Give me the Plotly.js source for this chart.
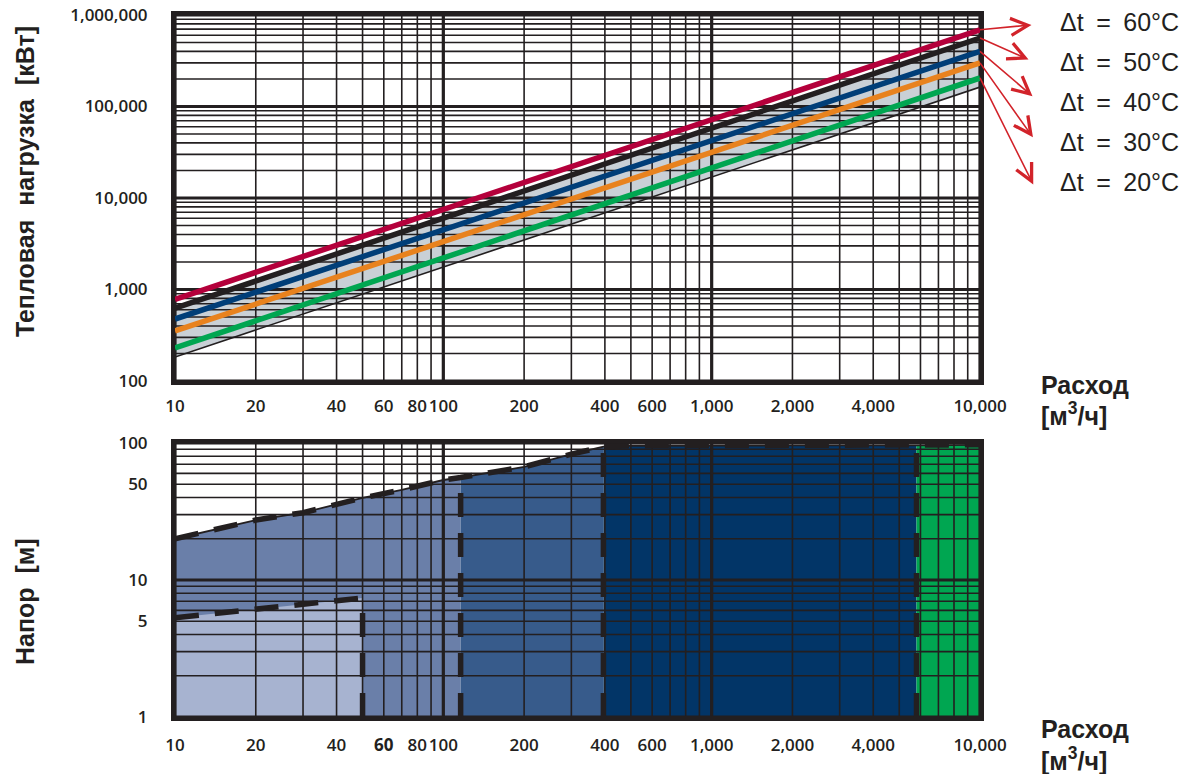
<!DOCTYPE html>
<html>
<head>
<meta charset="utf-8">
<script src="https://cdn.plot.ly/plotly-3.0.1.min.js"></script>
<style>html,body{margin:0;padding:0;background:#fff}#chart{width:1187px;height:774px}</style>
</head>
<body>
<div id="chart"></div>
<script>
// ---------- data: top chart (heat load vs flow) ----------
const flowEnds = [10, 10000];               // м³/ч
const load60 = [780, 690000];               // кВт, Δt = 60°C
const load50 = [625, 560000];               // Δt = 50°C
const load40 = [476, 400000];               // Δt = 40°C
const load30 = [352, 300000];               // Δt = 30°C
const load20 = [230, 205000];               // Δt = 20°C
const loadLow = [183, 163000];              // lower band edge
const dtLabels = ['Δt\u2002=\u200260°C', 'Δt\u2002=\u200250°C', 'Δt\u2002=\u200240°C', 'Δt\u2002=\u200230°C', 'Δt\u2002=\u200220°C'];

// ---------- data: bottom chart (head vs flow) ----------
const envFlow = [10, 20, 30, 50, 70, 100, 116, 200, 300, 395, 500, 1000, 2000, 5800, 10000];
const envHead = [20, 27.4, 31, 39.7, 45.5, 53.7, 56, 67, 83, 94, 95.5, 96, 96, 96, 97];
const smallFlow = [10, 50];
const smallHead = [5.3, 7.4];
const zoneEdges = [10, 50, 116, 395, 5800, 10000];

// ---------- tick labels ----------
const xTickVals = [10, 20, 40, 60, 80, 100, 200, 400, 600, 1000, 2000, 4000, 10000];
const xTickText = ['10', '20', '40', '60', '80', '100', '200', '400', '600', '1,000', '2,000', '4,000', '10,000'];
const xTickTextBottom = ['10', '20', '40', '<b>60</b>', '80', '100', '200', '400', '600', '1,000', '2,000', '4,000', '10,000'];
const yTopTickVals = [100, 1000, 10000, 100000, 1000000];
const yTopTickText = ['100', '1,000', '10,000', '100,000', '1,000,000'];
const yBotTickVals = [1, 5, 10, 50, 100];
const yBotTickText = ['1', '5', '10', '50', '100'];

const INK = '#231f20';
const lineColors = ['#b4003b', '#231f20', '#003e78', '#e8821e', '#00a651'];
const zoneColors = ['#6a7fa9', '#a7b3d0', '#375b8b', '#023567', '#00a651'];

// ---------- helpers ----------
function logGrid(lo, hi) {
  const minor = [], major = [];
  for (let d = lo; d < hi; d *= 10) {
    major.push(d);
    for (let m = 2; m < 10; m++) minor.push(d * m);
  }
  major.push(hi);
  return {minor, major};
}
function vSegs(vals, a, b) { const x = [], y = []; vals.forEach(v => { x.push(v, v, null); y.push(a, b, null); }); return {x, y}; }
function hSegs(vals, a, b) { const x = [], y = []; vals.forEach(v => { x.push(a, b, null); y.push(v, v, null); }); return {x, y}; }
function gridTraces(xa, ya, xr, yr) {
  const gx = logGrid(xr[0], xr[1]), gy = logGrid(yr[0], yr[1]);
  const out = [];
  [[vSegs(gx.minor, yr[0], yr[1]), 1.6], [hSegs(gy.minor, xr[0], xr[1]), 1.6],
   [vSegs(gx.major, yr[0], yr[1]), 3.2], [hSegs(gy.major, xr[0], xr[1]), 3.2]].forEach(([s, w]) => {
    out.push({x: s.x, y: s.y, xaxis: xa, yaxis: ya, mode: 'lines', line: {color: INK, width: w}, hoverinfo: 'skip', connectgaps: false});
  });
  return out;
}

const traces = [];
// top: grey band
traces.push({x: flowEnds, y: loadLow, mode: 'lines', line: {width: 0}, xaxis: 'x', yaxis: 'y', hoverinfo: 'skip'});
traces.push({x: flowEnds, y: load50, mode: 'lines', line: {width: 0}, fill: 'tonexty', fillcolor: '#c9d0d6', xaxis: 'x', yaxis: 'y', hoverinfo: 'skip'});
traces.push(...gridTraces('x', 'y', [10, 10000], [100, 1000000]));
traces.push({x: flowEnds, y: loadLow, mode: 'lines', line: {color: INK, width: 1.6}, xaxis: 'x', yaxis: 'y'});
[load60, load50, load40, load30, load20].forEach((s, i) => {
  traces.push({x: flowEnds, y: s, mode: 'lines', name: dtLabels[i], line: {color: lineColors[i], width: 5.5}, xaxis: 'x', yaxis: 'y'});
});

// bottom: zones
function envBetween(a, b) {
  const x = [], y = [];
  envFlow.forEach((f, i) => { if (f >= a && f <= b) { x.push(f); y.push(envHead[i]); } });
  return {x, y};
}
function envAt(f) { return envHead[envFlow.indexOf(f)]; }
function zonePoly(a, b) {
  const e = envBetween(a, b);
  return {x: [a, ...e.x, b, a], y: [1, ...e.y, 1, 1]};
}
const zones = [
  zonePoly(zoneEdges[0], zoneEdges[2]),
  {x: [smallFlow[0], smallFlow[0], smallFlow[1], smallFlow[1], smallFlow[0]], y: [1, smallHead[0], smallHead[1], 1, 1]},
  zonePoly(zoneEdges[2], zoneEdges[3]),
  zonePoly(zoneEdges[3], zoneEdges[4]),
  zonePoly(zoneEdges[4], zoneEdges[5])
];
zones.forEach((z, i) => {
  traces.push({x: z.x, y: z.y, mode: 'lines', fill: 'toself', fillcolor: zoneColors[i], line: {width: 0}, xaxis: 'x2', yaxis: 'y2', hoverinfo: 'skip'});
});
traces.push(...gridTraces('x2', 'y2', [10, 10000], [1, 100]));
// envelope and dashed boundaries
traces.push({x: envFlow, y: envHead, mode: 'lines', line: {color: INK, width: 1.8}, xaxis: 'x2', yaxis: 'y2', hoverinfo: 'skip'});
const dashLine = {color: INK, width: 5.5, dash: '24px,16px'};
traces.push({x: envFlow, y: envHead, mode: 'lines', line: dashLine, xaxis: 'x2', yaxis: 'y2', hoverinfo: 'skip'});
traces.push({x: smallFlow, y: smallHead, mode: 'lines', line: dashLine, xaxis: 'x2', yaxis: 'y2', hoverinfo: 'skip'});
traces.push({x: [smallFlow[1], smallFlow[1]], y: [1, smallHead[1]], mode: 'lines', line: dashLine, xaxis: 'x2', yaxis: 'y2', hoverinfo: 'skip'});
[zoneEdges[2], zoneEdges[3], zoneEdges[4]].forEach(f => {
  traces.push({x: [f, f], y: [1, envAt(f)], mode: 'lines', line: dashLine, xaxis: 'x2', yaxis: 'y2', hoverinfo: 'skip'});
});

const tickFont = {family: 'Open Sans, sans-serif', size: 17, weight: 600, color: INK};
function xAxis(anchor, text, standoff) {
  return {type: 'log', range: [1, 4], anchor: anchor, domain: [0, 1], showgrid: false, zeroline: false,
    showline: true, mirror: true, linewidth: 4, linecolor: INK, ticks: '', tickmode: 'array', tickangle: 0,
    tickvals: xTickVals, ticktext: text, tickfont: tickFont, ticklabelstandoff: standoff, automargin: false, fixedrange: true};
}
function yAxis(anchor, dom, range, vals, text) {
  return {type: 'log', range: range, anchor: anchor, domain: dom, showgrid: false, zeroline: false,
    showline: true, mirror: true, linewidth: 4, linecolor: INK, ticks: '', tickmode: 'array', tickangle: 0,
    tickvals: vals, ticktext: text, tickfont: tickFont, ticklabelstandoff: 20, automargin: false, fixedrange: true};
}

const titleFont = {family: 'Liberation Sans, Arial, sans-serif', size: 25, weight: 700, color: INK};
const labelFont = {family: 'Liberation Sans, Arial, sans-serif', size: 25, color: INK};
const annotations = [
  {text: 'Тепловая\u00a0\u00a0нагрузка\u00a0\u00a0[кВт]', textangle: -90, xref: 'paper', yref: 'paper', x: -0.1863, y: 0.762, showarrow: false, font: titleFont, xanchor: 'center', yanchor: 'middle'},
  {text: 'Напор\u00a0\u00a0[м]', textangle: -90, xref: 'paper', yref: 'paper', x: -0.1863, y: 0.1638, showarrow: false, font: titleFont, xanchor: 'center', yanchor: 'middle'},
  {text: 'Расход', xref: 'paper', yref: 'paper', x: 1.0745, y: 0.4735, showarrow: false, font: titleFont, xanchor: 'left', yanchor: 'middle', borderpad: 0},
  {text: '[м<sup>3</sup>/ч]', xref: 'paper', yref: 'paper', x: 1.0745, y: 0.431, showarrow: false, font: titleFont, xanchor: 'left', yanchor: 'middle', borderpad: 0},
  {text: 'Расход', xref: 'paper', yref: 'paper', x: 1.0745, y: -0.0165, showarrow: false, font: titleFont, xanchor: 'left', yanchor: 'middle', borderpad: 0},
  {text: '[м<sup>3</sup>/ч]', xref: 'paper', yref: 'paper', x: 1.0745, y: -0.0600, showarrow: false, font: titleFont, xanchor: 'left', yanchor: 'middle', borderpad: 0}
];
const labelY = [0.990, 0.933, 0.876, 0.819, 0.762];
const arrowOff = [[53, -5], [50, 22], [54, 46], [54, 76], [54, 108]];
[load60, load50, load40, load30, load20].forEach((s, i) => {
  annotations.push({text: dtLabels[i], xref: 'paper', yref: 'paper', x: 1.0969, y: labelY[i], showarrow: false, font: labelFont, xanchor: 'left', yanchor: 'middle'});
  annotations.push({text: '', font: {size: 1}, xref: 'x', yref: 'y', x: Math.log10(flowEnds[1]), y: Math.log10(s[1]),
    showarrow: true, ax: arrowOff[i][0], ay: arrowOff[i][1], arrowside: 'start', startarrowhead: 5, arrowhead: 5,
    startarrowsize: 2.1, arrowsize: 2.1, arrowwidth: 1.6, arrowcolor: '#d2232a', standoff: 0, startstandoff: 0});
});

const layout = {
  width: 1187, height: 774,
  margin: {l: 175, r: 207, t: 15, b: 57},
  paper_bgcolor: '#ffffff', plot_bgcolor: '#ffffff',
  showlegend: false,
  xaxis: xAxis('y', xTickText, 7),
  yaxis: yAxis('x', [0.4786, 1], [2, 6], yTopTickVals, yTopTickText),
  xaxis2: xAxis('y2', xTickTextBottom, 10),
  yaxis2: yAxis('x2', [0, 0.3903], [0, 2], yBotTickVals, yBotTickText),
  annotations: annotations
};

Plotly.newPlot('chart', traces, layout, {displayModeBar: false, staticPlot: true});
</script>
</body>
</html>
